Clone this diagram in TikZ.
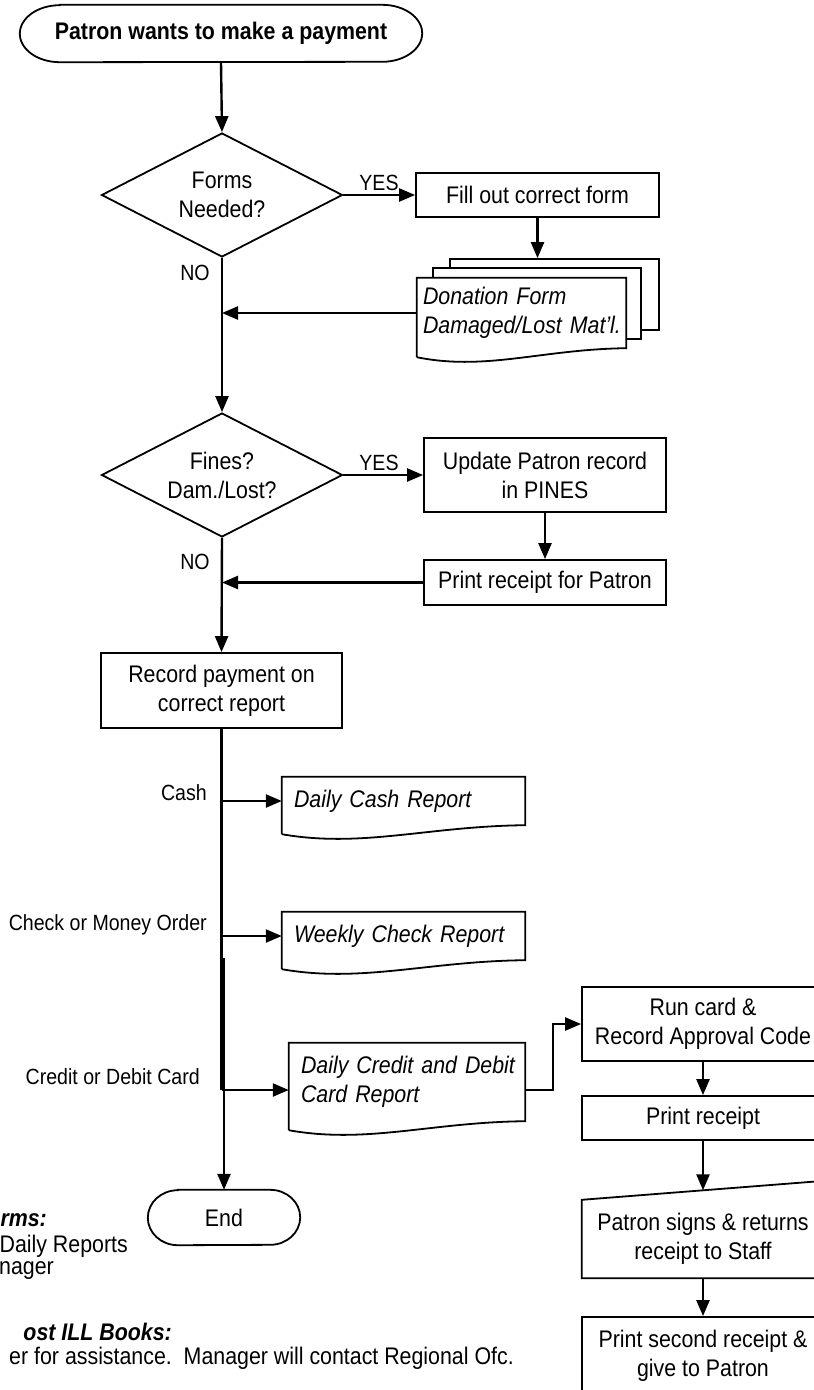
\documentclass[tikz,border=0pt]{standalone}
\usepackage{fontspec}
\setmainfont{Liberation Sans}[FakeStretch=0.89]
\usetikzlibrary{arrows.meta,shapes.geometric,calc}
\newcommand\docoutline[1]{%
  \draw[shapeline] ($(#1.south west)+(0,9)$) -- (#1.north west) -- (#1.north east) -- (#1.south east)
    .. controls ($(#1.south west)!0.6!(#1.south east)+(0,1)$) and ($(#1.south west)!0.33!(#1.south east)+(0,23)$) .. ($(#1.south west)+(0,9)$);}
\newcommand\termoutline[3]{%
  \draw[shapeline] ($(#1.north west)+(#2,0)$) -- ($(#1.north east)+(-#2,0)$)
    arc[start angle=-90, end angle=90, x radius=#2, y radius=#3]
    -- ($(#1.south west)+(#2,0)$)
    arc[start angle=90, end angle=270, x radius=#2, y radius=#3] -- cycle;}
\begin{document}
\begin{tikzpicture}[x=1pt,y=-1pt,
  every node/.style={font=\fontsize{24}{29}\selectfont},
  shapeline/.style={draw=black, line width=1.8pt, line join=miter},
  procbox/.style={rectangle, draw, line width=1.8pt, fill=white, inner sep=0pt, align=center},
  decision/.style={diamond, draw, line width=1.8pt, inner sep=0pt, shape aspect=2, align=center},
  termtext/.style={rectangle, inner sep=0pt},
  docbox/.style={rectangle, inner ysep=0pt, align=left, fill=white},
  sheet/.style={rectangle, draw, line width=1.8pt, fill=white, inner sep=0pt},
  conn/.style={line width=2.4pt},
  arr/.style={line width=2.4pt, -{Triangle[length=16pt,width=13pt]}},
  lbl/.style={font=\fontsize{22}{26}\selectfont, inner sep=0pt},
  note/.style={font=\fontsize{24}{28}\selectfont, inner sep=0pt},
  notehead/.style={font=\fontsize{24}{28}\selectfont\bfseries\itshape, inner sep=0pt},
]
\useasboundingbox (0,0) rectangle (814,1390);
\fill[white] (0,0) rectangle (814,1390);

% start
\node[termtext, minimum width=402, minimum height=57, font=\fontsize{24}{29}\selectfont\bfseries] (start) at (221,33.5) {Patron wants to make a payment};
\termoutline{start}{40}{28.5}

% decision 1
\node[decision, minimum width=241, minimum height=124] (d1) at (222,195) {Forms\\Needed?};
\node[procbox, minimum width=243, minimum height=44] (b1) at (537.5,195) {Fill out correct form};
\node[lbl] (yes1) at (379,183) {YES};
\node[lbl] (no1) at (195,273) {NO};

% stacked documents
\node[sheet, minimum width=209, minimum height=71] (s1) at (554.5,294.5) {};
\node[sheet, minimum width=208, minimum height=71] (s2) at (537,303.5) {};
\node[docbox, inner xsep=6pt, minimum width=209, minimum height=70, text width=197] (f3) at (521.5,313) {\itshape\mbox{Donation Form}\\\itshape\mbox{Damaged/Lost Mat’l.}};
\docoutline{f3}

% decision 2
\node[decision, minimum width=241, minimum height=124] (d2) at (222,475) {Fines?\\Dam./Lost?};
\node[procbox, minimum width=242, minimum height=74] (b2) at (545,475) {Update Patron record\\in PINES};
\node[procbox, minimum width=242, minimum height=45] (b3) at (545,582.5) {Print receipt for Patron};
\node[lbl] (yes2) at (379,463) {YES};
\node[lbl] (no2) at (195,562) {NO};

% record payment
\node[procbox, minimum width=241, minimum height=75] (b4) at (221.5,690.5) {Record payment on\\correct report};

% reports
\node[docbox, inner xsep=12pt, minimum width=243, minimum height=48, text width=219] (cash) at (403.5,801) {\itshape\mbox{Daily Cash Report}};
\docoutline{cash}
\node[docbox, inner xsep=12pt, minimum width=243, minimum height=48, text width=219] (week) at (403.5,936) {\itshape\mbox{Weekly Check Report}};
\docoutline{week}
\node[docbox, inner xsep=12pt, minimum width=236, minimum height=78, text width=212] (credit) at (407,1082) {\itshape\mbox{Daily Credit and Debit}\\\itshape\mbox{Card Report}};
\docoutline{credit}

\node[lbl, anchor=east] (lcash) at (207,793) {Cash};
\node[lbl, anchor=east] (lcheck) at (207,925) {Check or Money Order};
\node[lbl, anchor=east] (lcredit) at (200,1077) {Credit or Debit Card};

% card column
\node[procbox, minimum width=242, minimum height=74] (b5) at (703,1024) {Run card \&\\Record Approval Code};
\node[procbox, minimum width=242, minimum height=44] (b6) at (703,1118) {Print receipt};
\node[rectangle, inner sep=0pt, minimum width=242, minimum height=78, align=center] (mi) at (703,1239) {Patron signs \& returns\\receipt to Staff};
\draw[shapeline] (mi.south west) -- (mi.north west) -- ($(mi.north east)+(0,-19)$) -- (mi.south east) -- cycle;
\coordinate (mitop) at ($(mi.north)+(0,-9.5)$);
\node[procbox, minimum width=242, minimum height=78] (b7) at (703,1356) {Print second receipt \&\\give to Patron};

% end
\node[termtext, minimum width=152, minimum height=55] (end) at (224,1217.5) {End};
\termoutline{end}{30}{27.5}

% notes (cut at the left edge)
\node[notehead, anchor=east] (n1) at (47,1220) {rms:};
\node[note, anchor=east] (n2) at (128,1246) {Daily Reports};
\node[note, anchor=east] (n3) at (54,1271) {nager};
\node[notehead, anchor=east] (n4) at (172,1332) {ost ILL Books:};
\node[note, anchor=east] (n5) at (514,1358) {er for assistance.\ \ Manager will contact Regional Ofc.};

% connectors
\draw[arr] (start.south) -- (d1.north);
\draw[arr] (d1.east) -- (b1.west);
\draw[arr] (b1.south) -- (b1.south |- s1.north);
\draw[arr] (f3.west) -- (f3.west -| d1.south);
\draw[arr] (d1.south) -- (d2.north);
\draw[arr] (d2.east) -- (b2.west);
\draw[arr] (b2.south) -- (b3.north);
\draw[arr] (b3.west) -- (b3.west -| d2.south);
\draw[arr] (d2.south) -- (b4.north);

\coordinate (cdin) at ($(credit.west)+(0,8)$);
\coordinate (cdout) at ($(credit.east)+(0,8)$);
\coordinate (turn) at (553,1023);
\coordinate (jog) at (224,958);
\draw[conn] (b4.south) -- (b4.south |- cdin);
\draw[arr] (b4.south |- cash.west) -- (cash.west);
\draw[arr] (b4.south |- week.west) -- (week.west);
\draw[arr] (b4.south |- cdin) -- (cdin);
\draw[arr] (jog) -- (end.north);
\draw[arr] (cdout) -- (cdout -| turn) |- (b5.west);
\draw[arr] (b5.south) -- (b6.north);
\draw[arr] (b6.south) -- (mitop);
\draw[arr] (mi.south) -- (b7.north);
\end{tikzpicture}
\end{document}
